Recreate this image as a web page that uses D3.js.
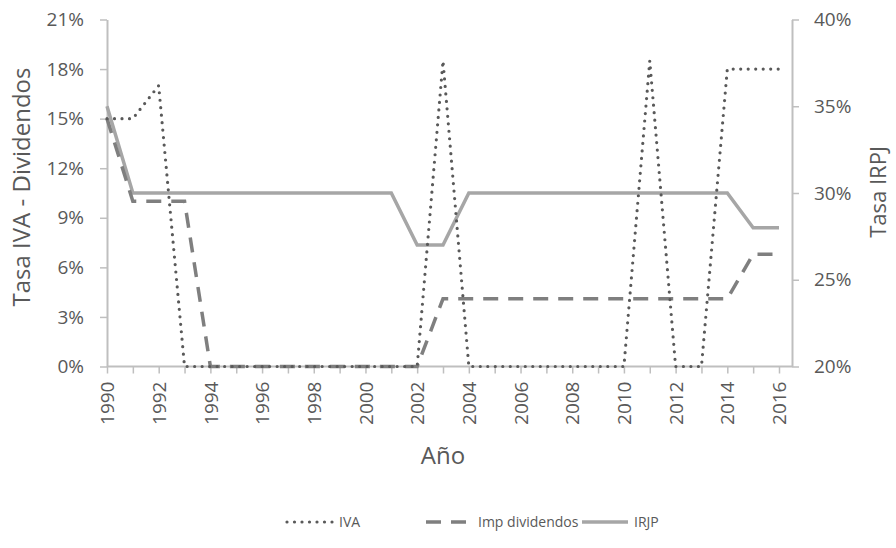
<!DOCTYPE html>
<html>
<head>
<meta charset="utf-8">
<script src="https://cdn.jsdelivr.net/npm/d3@7"></script>
<style>
  body { margin: 0; background: #fff; }
  text { font-family: "Open Sans", "DejaVu Sans", sans-serif; fill: #595959; }
</style>
</head>
<body>
<svg id="chart" width="896" height="548"></svg>
<script>
var years = d3.range(1990, 2017);
var iva = [15, 15, 17, 0, 0, 0, 0, 0, 0, 0, 0, 0, 0, 18.5, 0, 0, 0, 0, 0, 0, 0, 18.5, 0, 0, 18, 18, 18];
var dividendos = [15, 10, 10, 10, 0, 0, 0, 0, 0, 0, 0, 0, 0, 4.1, 4.1, 4.1, 4.1, 4.1, 4.1, 4.1, 4.1, 4.1, 4.1, 4.1, 4.1, 6.8, 6.8];
var irpj = [35, 30, 30, 30, 30, 30, 30, 30, 30, 30, 30, 30, 27, 27, 30, 30, 30, 30, 30, 30, 30, 30, 30, 30, 30, 28, 28];
var leftTicks = [0, 3, 6, 9, 12, 15, 18, 21];
var rightTicks = [20, 25, 30, 35, 40];

var svg = d3.select('#chart');
var plotLeft = 107, plotRight = 792, plotTop = 19.5, plotBottom = 366.5;

var x = d3.scaleLinear().domain([1990, 2016]).range([plotLeft, 779]);
var yL = d3.scaleLinear().domain([0, 21]).range([plotBottom, plotTop]);
var yR = d3.scaleLinear().domain([20, 40]).range([plotBottom, plotTop]);

// left axis
var gL = svg.append('g').attr('transform', 'translate(' + plotLeft + ',0)')
  .call(d3.axisLeft(yL).tickValues(leftTicks).tickSize(7).tickSizeOuter(0)
    .tickFormat(function(d) { return d + '%'; }));
gL.select('.domain').attr('stroke', '#bfbfbf').attr('stroke-width', 2);
gL.selectAll('.tick line').attr('stroke', '#bfbfbf').attr('stroke-width', 1.5);
gL.selectAll('.tick text').attr('x', -23).style('font-size', '19px').attr('fill', '#595959');

// right axis
var gR = svg.append('g').attr('transform', 'translate(' + plotRight + ',0)')
  .call(d3.axisRight(yR).tickValues(rightTicks).tickSize(7).tickSizeOuter(0)
    .tickFormat(function(d) { return d + '%'; }));
gR.select('.domain').attr('stroke', '#bfbfbf').attr('stroke-width', 2);
gR.selectAll('.tick line').attr('stroke', '#bfbfbf').attr('stroke-width', 1.5);
gR.selectAll('.tick text').attr('x', 22).style('font-size', '19px').attr('fill', '#595959');

// x axis
var gX = svg.append('g').attr('transform', 'translate(0,' + plotBottom + ')')
  .call(d3.axisBottom(x).tickValues(years).tickSize(7).tickSizeOuter(0)
    .tickFormat(function(d) { return d % 2 === 0 ? d : ''; }));
gX.select('.domain').attr('stroke', '#bfbfbf').attr('stroke-width', 2)
  .attr('d', 'M' + plotLeft + ',0H' + plotRight);
gX.selectAll('.tick line').attr('stroke', '#bfbfbf').attr('stroke-width', 1.5);
gX.selectAll('.tick text')
  .attr('transform', 'rotate(-90)')
  .attr('x', -15).attr('y', 0).attr('dy', '0.35em')
  .style('text-anchor', 'end').style('font-size', '19px').attr('fill', '#595959');

// axis titles
svg.append('text').attr('transform', 'translate(22,187) rotate(-90)')
  .attr('text-anchor', 'middle').attr('dy', '0.35em').style('font-size', '24px')
  .text('Tasa IVA - Dividendos');
svg.append('text').attr('transform', 'translate(878,192) rotate(-90)')
  .attr('text-anchor', 'middle').attr('dy', '0.35em').style('font-size', '22px')
  .text('Tasa IRPJ');
svg.append('text').attr('x', 443).attr('y', 456).attr('dy', '0.35em')
  .attr('text-anchor', 'middle').style('font-size', '24px').text('Año');

// lines
var lineL = d3.line().x(function(d, i) { return x(years[i]); }).y(function(d) { return yL(d); });
var lineR = d3.line().x(function(d, i) { return x(years[i]); }).y(function(d) { return yR(d); });

svg.append('path').datum(irpj).attr('d', lineR)
  .attr('fill', 'none').attr('stroke', '#a6a6a6').attr('stroke-width', 3.5);
svg.append('path').datum(dividendos).attr('d', lineL)
  .attr('fill', 'none').attr('stroke', '#7f7f7f').attr('stroke-width', 3.5)
  .attr('stroke-dasharray', '15,10');
svg.append('path').datum(iva).attr('d', lineL)
  .attr('fill', 'none').attr('stroke', '#595959').attr('stroke-width', 3.2)
  .attr('stroke-linecap', 'round').attr('stroke-dasharray', '0,7.5');

// legend
var legend = [
  {name: 'IVA', x: 287, stroke: '#595959', w: 3.2, dash: '0,7.5', cap: 'round'},
  {name: 'Imp dividendos', x: 426, stroke: '#7f7f7f', w: 3.5, dash: '15,10', cap: 'butt'},
  {name: 'IRJP', x: 582, stroke: '#a6a6a6', w: 3.5, dash: null, cap: 'butt'}
];
var lg = svg.append('g').selectAll('g').data(legend).enter().append('g');
lg.append('line')
  .attr('x1', function(d) { return d.x; }).attr('x2', function(d) { return d.x + 46; })
  .attr('y1', 522).attr('y2', 522)
  .attr('stroke', function(d) { return d.stroke; })
  .attr('stroke-width', function(d) { return d.w; })
  .attr('stroke-dasharray', function(d) { return d.dash; })
  .attr('stroke-linecap', function(d) { return d.cap; });
lg.append('text')
  .attr('x', function(d) { return d.x + 52; }).attr('y', 522).attr('dy', '0.35em')
  .style('font-size', '14px').text(function(d) { return d.name; });
</script>
</body>
</html>
